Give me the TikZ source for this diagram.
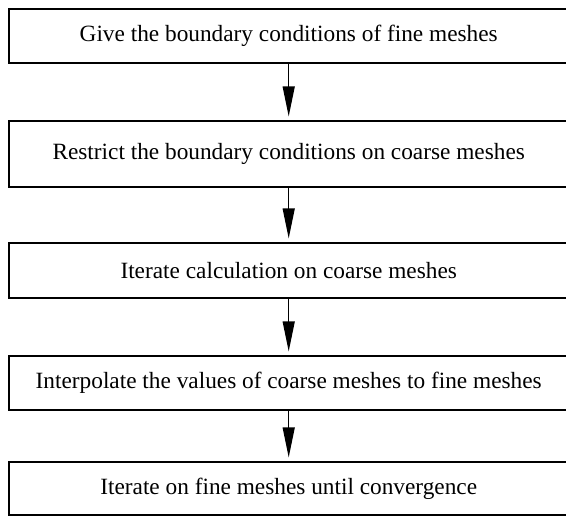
\documentclass[tikz,border=0pt]{standalone}
\usepackage{fontspec}
\setmainfont{Liberation Serif}
\usetikzlibrary{arrows.meta}
\tikzset{
  stepbox/.style={draw, line width=1.2pt, minimum width=559.4pt, inner sep=0pt,
    font=\fontsize{23.3}{28}\selectfont},
  flowarrow/.style={line width=1.3pt, -{Triangle[length=30pt,width=12pt]}, shorten >=4pt}
}
\begin{document}
\begin{tikzpicture}[x=1pt,y=-1pt]
        \useasboundingbox (0,0) rectangle (566,516);
        \node [stepbox, minimum height=54pt] (fine) at (288.7,36) {Give the boundary conditions of fine meshes};
        \node [stepbox, minimum height=66pt] (restrict) at (288.7,154) {Restrict the boundary conditions on coarse meshes};
        \node [stepbox, minimum height=55pt] (coarse) at (288.7,270.5) {Iterate calculation on coarse meshes};
        \node [stepbox, minimum height=54pt] (interp) at (288.7,383) {Interpolate the values of coarse meshes to fine meshes};
        \node [stepbox, minimum height=53pt] (conv) at (288.7,488.5) {Iterate on fine meshes until convergence};
        \draw[flowarrow] (fine) -- (restrict);
        \draw[flowarrow] (restrict) -- (coarse);
        \draw[flowarrow] (coarse) -- (interp);
        \draw[flowarrow] (interp) -- (conv);
    \end{tikzpicture}
\end{document}
